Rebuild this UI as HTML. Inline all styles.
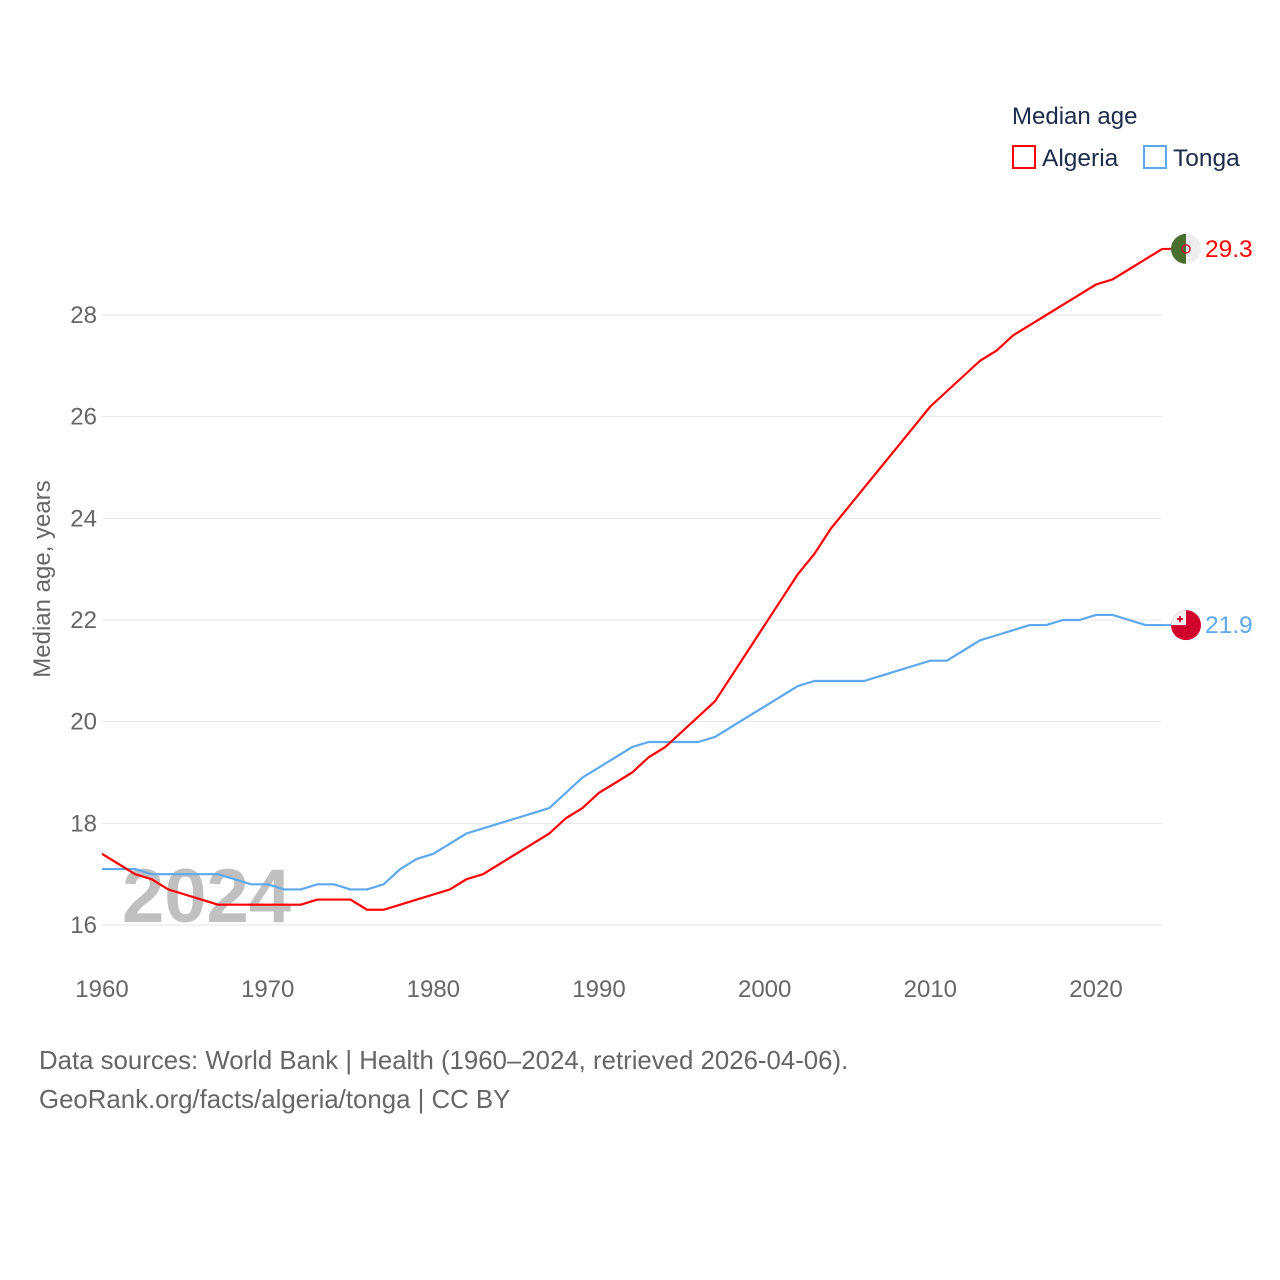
<!DOCTYPE html>
<html><head><meta charset="utf-8"><style>
body{margin:0;background:#fff;font-family:"Liberation Sans",sans-serif}
svg{display:block}
</style></head><body>
<svg id="chart" width="1280" height="1280" xmlns="http://www.w3.org/2000/svg">
<rect width="1280" height="1280" fill="#fff"/>
<text x="1012" y="124" font-size="24" fill="#1d2b4a">Median age</text>
<g><rect x="1013" y="146" width="22" height="22" fill="none" stroke="#f00" stroke-width="2"/><text x="1042" y="166" font-size="24.5" fill="#1d2b4a">Algeria</text></g>
<g><rect x="1144" y="146" width="22" height="22" fill="none" stroke="#5ea8ee" stroke-width="2"/><text x="1173" y="166" font-size="24.5" fill="#1d2b4a">Tonga</text></g>
<text transform="translate(50,579) rotate(-90)" text-anchor="middle" font-size="24" fill="#666">Median age, years</text>
<g id="grid"></g><g id="xt"></g>
<text x="122" y="922" font-size="76" font-weight="bold" fill="#c0c0c0">2024</text>
<g id="lines"></g>
<text x="39" y="1069" font-size="25.8" fill="#666">Data sources: World Bank | Health (1960–2024, retrieved 2026-04-06).</text>
<text x="39" y="1108" font-size="25.8" fill="#666">GeoRank.org/facts/algeria/tonga | CC BY</text>
</svg>
<script>
const years=[];for(let y=1960;y<=2024;y++)years.push(y);
const algeria=[17.4,17.2,17.0,16.9,16.7,16.6,16.5,16.4,16.4,16.4,16.4,16.4,16.4,16.5,16.5,16.5,16.3,16.3,16.4,16.5,16.6,16.7,16.9,17.0,17.2,17.4,17.6,17.8,18.1,18.3,18.6,18.8,19.0,19.3,19.5,19.8,20.1,20.4,20.9,21.4,21.9,22.4,22.9,23.3,23.8,24.2,24.6,25.0,25.4,25.8,26.2,26.5,26.8,27.1,27.3,27.6,27.8,28.0,28.2,28.4,28.6,28.7,28.9,29.1,29.3];
const tonga=[17.1,17.1,17.1,17.0,17.0,17.0,17.0,17.0,16.9,16.8,16.8,16.7,16.7,16.8,16.8,16.7,16.7,16.8,17.1,17.3,17.4,17.6,17.8,17.9,18.0,18.1,18.2,18.3,18.6,18.9,19.1,19.3,19.5,19.6,19.6,19.6,19.6,19.7,19.9,20.1,20.3,20.5,20.7,20.8,20.8,20.8,20.8,20.9,21.0,21.1,21.2,21.2,21.4,21.6,21.7,21.8,21.9,21.9,22.0,22.0,22.1,22.1,22.0,21.9,21.9];
const yTicks=[16,18,20,22,24,26,28];
const xTicks=[1960,1970,1980,1990,2000,2010,2020];
const NS="http://www.w3.org/2000/svg";
const xs=y=>102+(y-1960)*(994/60);
const ys=v=>925-(v-16)*(610/12);
function mk(t,a,p){const e=document.createElementNS(NS,t);for(const k in a)e.setAttribute(k,a[k]);p.appendChild(e);return e;}
const grid=document.getElementById('grid'),xt=document.getElementById('xt'),lines=document.getElementById('lines');
yTicks.forEach(v=>{
 const l=mk('line',{x1:102,x2:1162,y1:ys(v),y2:ys(v),stroke:'#e6e6e6','stroke-width':1},grid);
 
 
 const t=mk('text',{x:97,y:ys(v)+8,'text-anchor':'end','font-size':24,fill:'#666'},grid);t.textContent=v;
 
 
});
xTicks.forEach(v=>{
 const t=mk('text',{x:xs(v),y:997,'text-anchor':'middle','font-size':24,fill:'#666'},xt);t.textContent=v;
 
 
});
function series(vals,color,name,flag){
 const p=mk('polyline',{points:vals.map((v,i)=>xs(years[i])+','+ys(v)).join(' '),fill:'none',stroke:color,'stroke-width':2.2,'stroke-linejoin':'round'},lines);
 
 
 const last=vals[vals.length-1],cy=ys(last);
 mk('line',{x1:1162,x2:1172,y1:cy,y2:cy,stroke:color,'stroke-width':2},lines);
 const g=mk('g',{},lines);
 
 
 if(flag==='dz'){
  mk('circle',{cx:1186,cy:cy,r:15,fill:'#eee'},g);
  mk('path',{d:`M1186 ${cy-15} A15 15 0 0 0 1186 ${cy+15} Z`,fill:'#4a6e32'},g);
  mk('circle',{cx:1186,cy:cy,r:4,fill:'none',stroke:'#d21034','stroke-width':1.5},g);
 }else{
  mk('circle',{cx:1186,cy:cy,r:15,fill:'#d2002c'},g);
  mk('path',{d:`M1171 ${cy} A15 15 0 0 1 1186 ${cy-15} L1186 ${cy} Z`,fill:'#eee'},g);
  mk('path',{d:`M1177 ${cy-6}h6M1180 ${cy-9}v6`,stroke:'#d2002c','stroke-width':2},g);
 }
 const t=mk('text',{x:1205,y:cy+8,'font-size':24.5,fill:color},lines);t.textContent=last.toFixed(1);
 
 
}
series(tonga,'#5ea8ee','tonga','to');
series(algeria,'#ff0000','algeria','dz');
</script>
</body></html>
